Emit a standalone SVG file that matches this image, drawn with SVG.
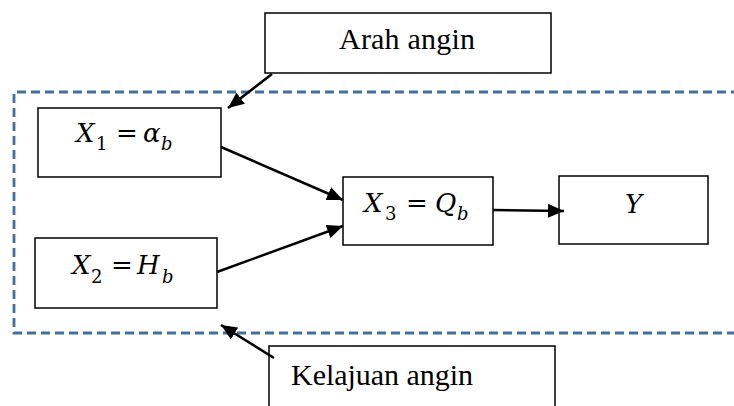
<svg xmlns="http://www.w3.org/2000/svg" width="734" height="406" viewBox="0 0 734 406">
<style>
.box{fill:#fff;stroke:#000;stroke-width:1.5}
.lbl{font-family:"Liberation Serif","Times New Roman",serif;font-size:30px;fill:#000}
.m{font-family:"DejaVu Serif",serif;font-size:26px;font-style:italic;fill:#000}
.up{font-style:normal}
.sub{font-size:18px}
.conn{stroke:#000;stroke-width:2.5;fill:none;marker-end:url(#ah)}
.dash{stroke:#41719C;stroke-width:2.8;fill:none;stroke-dasharray:9 5}
</style>
<defs>
<marker id="ah" markerUnits="userSpaceOnUse" markerWidth="18" markerHeight="14" refX="16" refY="7" orient="auto">
<path d="M0,0 L16,7 L0,14 Z" fill="#000"/>
</marker>
</defs>
<path class="dash" d="M740,92 H14 V333 H740"/>
<g id="arah">
<rect class="box" x="265" y="13" width="286" height="60"/>
<text class="lbl" x="339" y="49" textLength="136">Arah angin</text>
</g>
<g id="kelajuan">
<rect class="box" x="269" y="346" width="286" height="80"/>
<text class="lbl" x="291" y="385" textLength="182">Kelajuan angin</text>
</g>
<g id="x1">
<rect class="box" x="38" y="108" width="183" height="69"/>
<text class="m"><tspan x="76" y="142">X</tspan><tspan class="up sub" x="96" y="150">1</tspan><tspan class="up" x="116" y="142">=</tspan><tspan x="143" y="142">α</tspan><tspan class="sub" x="161" y="150">b</tspan></text>
</g>
<g id="x2">
<rect class="box" x="35" y="238" width="182" height="70"/>
<text class="m"><tspan x="72" y="274">X</tspan><tspan class="up sub" x="91" y="283">2</tspan><tspan class="up" x="111" y="274">=</tspan><tspan x="137" y="274">H</tspan><tspan class="sub" x="162" y="283">b</tspan></text>
</g>
<g id="x3">
<rect class="box" x="343" y="177" width="150" height="68"/>
<text class="m"><tspan x="364" y="212">X</tspan><tspan class="up sub" x="385" y="220">3</tspan><tspan class="up" x="406" y="212">=</tspan><tspan x="435" y="212">Q</tspan><tspan class="sub" x="457" y="220">b</tspan></text>
</g>
<g id="y">
<rect class="box" x="559" y="176" width="149" height="68"/>
<text class="m" x="625" y="213">Y</text>
</g>
<g id="connectors">
<line class="conn" x1="272" y1="74" x2="228" y2="108"/>
<line class="conn" x1="221" y1="147" x2="343" y2="200"/>
<line class="conn" x1="217" y1="272" x2="343" y2="226"/>
<line class="conn" x1="493" y1="210" x2="564" y2="211"/>
<line class="conn" x1="274" y1="358" x2="221" y2="325"/>
</g>
</svg>
